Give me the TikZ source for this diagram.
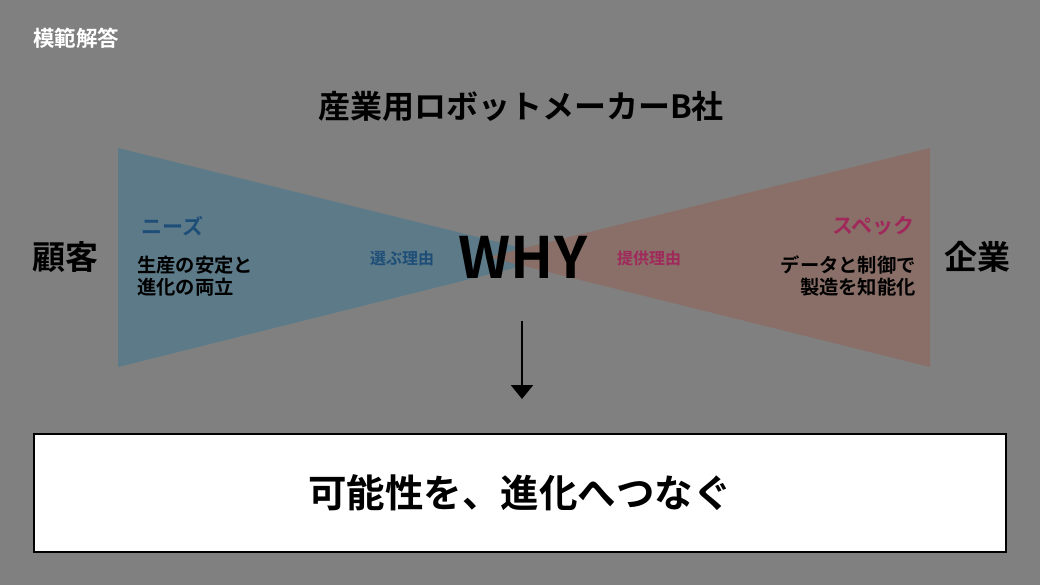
\documentclass[tikz,border=0pt]{standalone}
\usepackage{fontspec}
\setmainfont{Noto Sans CJK JP}
\newfontfamily\jpb{Noto Sans CJK JP Bold}
\usetikzlibrary{arrows.meta}
\definecolor{bg}{RGB}{128,128,128}
\definecolor{lefttri}{RGB}{92,122,136}
\definecolor{righttri}{RGB}{138,111,103}
\definecolor{needblue}{RGB}{30,78,120}
\definecolor{specpink}{RGB}{160,40,90}
\tikzset{
  lbl/.style={font=\jpb\fontsize{#1}{#1}\selectfont, inner sep=0pt},
}
\begin{document}
\begin{tikzpicture}[x=1pt,y=-1pt]
\path[fill=bg] (0,0) rectangle (1040,585);
\useasboundingbox (0,0) rectangle (1040,585);
\fill[lefttri] (118,148) -- (118,367) -- (558,257) -- cycle;
\fill[righttri,opacity=0.95] (930,148) -- (930,367) -- (488,257) -- cycle;
\node[lbl=21.5, text=white, anchor=west] (hdr) at (33,38) {模範解答};
\node[lbl=32] (title) at (521,106) {産業用ロボットメーカーB社};
\node[lbl=33] (cust) at (65,257) {顧客};
\node[lbl=33] (comp) at (977,257) {企業};
\node[lbl=57] (why) at (523,257) {WHY};
\node[lbl=21, text=needblue, anchor=west] (needs) at (141,226) {ニーズ};
\node[lbl=19.3, anchor=west, align=left] (needtxt) at (137,276) {生産の安定と\\[2.5pt]進化の両立};
\node[lbl=16, text=needblue] (choose) at (402,258) {選ぶ理由};
\node[lbl=16, text=specpink] (offer) at (649,258) {提供理由};
\node[lbl=21, text=specpink, anchor=east] (spec) at (915,226) {スペック};
\node[lbl=19.3, anchor=east, align=right] (spectxt) at (916,276) {データと制御で\\[2.5pt]製造を知能化};
\coordinate (arrtop) at (522,321);
\node[draw=black, line width=2pt, fill=white, minimum width=972pt, minimum height=118pt, inner sep=0pt, font=\jpb\fontsize{38.5}{38.5}\selectfont] (box) at (520,493) {可能性を、進化へつなぐ};
\coordinate (arrbot) at (522,399);
\draw[line width=2.6pt, -{Triangle[length=14pt,width=22pt]}] (arrtop) -- (arrbot);
\end{tikzpicture}
\end{document}
